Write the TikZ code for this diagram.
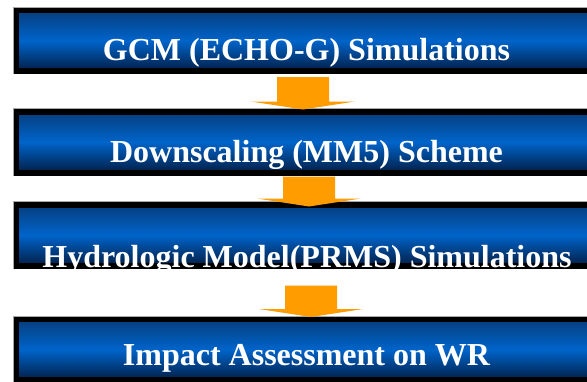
\documentclass[tikz,border=0pt]{standalone}
\usepackage{fontspec}
\setmainfont{Liberation Serif}
\usetikzlibrary{calc}
\definecolor{boxtop}{HTML}{063D7C}
\definecolor{boxmid}{HTML}{0064CA}
\definecolor{boxlow}{HTML}{011E46}
\definecolor{arroworange}{RGB}{255,156,0}
\definecolor{edgegray}{HTML}{A8A8A8}
\tikzset{
  stagebox/.style={rectangle, draw=black, line width=6pt, inner sep=0pt,
    minimum width=581pt, minimum height=61pt,
    top color=boxtop, bottom color=boxlow, middle color=boxmid},
  stagelabel/.style={anchor=base, inner sep=0pt, text=white,
    font=\bfseries\fontsize{32}{38}\selectfont},
  edgeline/.style={draw=edgegray, line width=0.7pt},
  arrowfill/.style={fill=arroworange}
}
% block arrow: #1 source box, #2 target box, #3 x offset of the axis,
% #4 gap below the source, #5 depth of the tip below the target's top
\newcommand\flowarrow[5]{%
  \fill[arrowfill]
    ([xshift=#3-26pt,yshift=-#4]#1.south) --
    ([xshift=#3+26pt,yshift=-#4]#1.south) --
    ([xshift=#3+26pt,yshift=8pt-#5]#2.north) --
    ([xshift=#3+52pt,yshift=8pt-#5]#2.north) --
    ([xshift=#3,yshift=-#5]#2.north) --
    ([xshift=#3-52pt,yshift=8pt-#5]#2.north) --
    ([xshift=#3-26pt,yshift=8pt-#5]#2.north) -- cycle;}
\begin{document}
\begin{tikzpicture}[x=1pt,y=-1pt]
\useasboundingbox (0,0) rectangle (587,381);
\fill[white] (0,0) rectangle (587,381);

% the four stages
\node[stagebox] (b1) at (306.5,40.5) {};
\node[stagebox] (b2) at (306.5,142) {};
\node[stagebox] (b3) at (306.5,235) {};
\node[stagebox] (b4) at (306.5,349.5) {};

% faint outline along the top and left edges
\foreach \b in {b1,b2,b3,b4}
  \draw[edgeline] (\b.south west) -- (\b.north west) -- (\b.north east);

% labels
\node[stagelabel] (t1) at (306.5,60) {GCM (ECHO-G) Simulations};
\node[stagelabel] (t2) at (306.5,162) {Downscaling (MM5) Scheme};
\begin{scope}
  \clip (b3.north west) rectangle (b3.south east);
  \node[stagelabel] (t3) at (307,267) {Hydrologic Model(PRMS) Simulations};
\end{scope}
\node[stagelabel] (t4) at (306.5,365) {Impact Assessment on WR};

% arrows between the stages
\flowarrow{b1}{b2}{-3.5pt}{3pt}{1pt}
\flowarrow{b2}{b3}{2.5pt}{1pt}{5pt}
\flowarrow{b3}{b4}{4.5pt}{17pt}{1pt}
\end{tikzpicture}
\end{document}
